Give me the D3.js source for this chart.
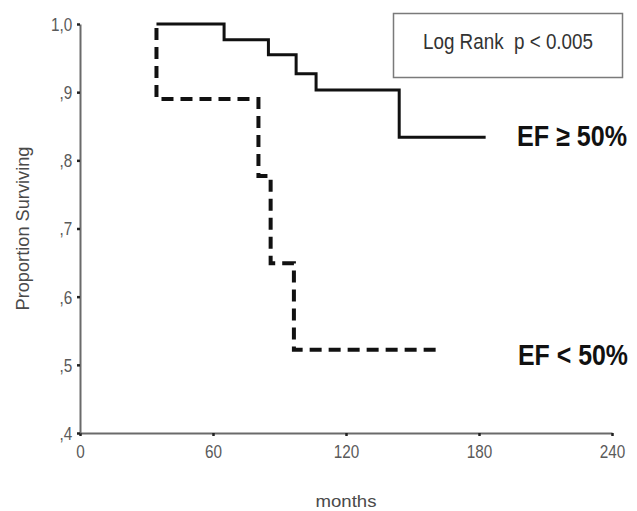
<!DOCTYPE html>
<html>
<head>
<meta charset="utf-8">
<script src="https://cdn.jsdelivr.net/npm/d3@7"></script>
<style>
  html, body { margin: 0; padding: 0; background: #fff; }
  svg { display: block; }
  text { font-family: "Liberation Sans", Arial, sans-serif; }
</style>
</head>
<body>
<div id="chart"></div>
<script>
// DATA (months, proportion surviving)
const efHighTimes = [34.5, 65, 85, 97.5, 106.5, 144, 183];
const efHighSurv  = [1.0, 0.977, 0.955, 0.927, 0.903, 0.834, 0.834];

const efLowTimes = [34.5, 34.5, 80.5, 86, 96.5, 162.5];
const efLowSurv  = [1.0, 0.89, 0.777, 0.649, 0.522, 0.522];

const xTicks = [0, 60, 120, 180, 240];
const yTicks = [0.4, 0.5, 0.6, 0.7, 0.8, 0.9, 1.0];
const yTickLabels = [',4', ',5', ',6', ',7', ',8', ',9', '1,0'];

const xLabel = 'months';
const yLabel = 'Proportion Surviving';
const testLabel = 'Log Rank  p < 0.005';
const seriesLabels = ['EF \u2265 50%', 'EF < 50%'];

// CANVAS
const width = 637, height = 511;
const margin = {top: 24, right: 25, bottom: 78, left: 80};
const innerW = width - margin.left - margin.right;
const innerH = height - margin.top - margin.bottom;

const svg = d3.select('#chart').append('svg')
  .attr('width', width)
  .attr('height', height);

const canvas = svg.append('g')
  .attr('transform', `translate(${margin.left},${margin.top})`);

// SCALES
const x = d3.scaleLinear().domain([0, 240]).range([0, innerW]);
const y = d3.scaleLinear().domain([0.4, 1.0]).range([innerH, 0]);

// X AXIS
const xAxis = d3.axisBottom(x)
  .tickValues(xTicks)
  .tickSize(3)
  .tickSizeOuter(0)
  .tickPadding(9);

const gx = canvas.append('g')
  .attr('class', 'x axis')
  .attr('transform', `translate(0,${innerH})`)
  .call(xAxis);

// Y AXIS
const yAxis = d3.axisLeft(y)
  .tickValues(yTicks)
  .tickFormat((d, i) => yTickLabels[i])
  .tickSize(3)
  .tickSizeOuter(0)
  .tickPadding(6);

const gy = canvas.append('g')
  .attr('class', 'y axis')
  .call(yAxis);

[gx, gy].forEach(g => {
  g.select('.domain').attr('stroke', '#6a6a6a').attr('stroke-width', 2);
  g.selectAll('.tick line').attr('stroke', '#222').attr('stroke-width', 2.5);
  g.selectAll('.tick text')
    .attr('fill', '#5a5a5a')
    .style('font-size', '18px');
});
gx.selectAll('.tick text').attr('transform', 'scale(0.85,1)');
gy.selectAll('.tick text').attr('transform', 'scale(0.85,1)').attr('dy', '0.36em');

// AXIS LABELS
svg.append('text')
  .attr('x', margin.left + innerW / 2)
  .attr('y', 507)
  .attr('text-anchor', 'middle')
  .attr('fill', '#4a4a4a')
  .attr('textLength', 61)
  .attr('lengthAdjust', 'spacingAndGlyphs')
  .style('font-size', '17px')
  .text(xLabel);

svg.append('text')
  .attr('transform', `translate(29,${margin.top + innerH / 2}) rotate(-90)`)
  .attr('text-anchor', 'middle')
  .attr('fill', '#4a4a4a')
  .attr('textLength', 164)
  .attr('lengthAdjust', 'spacingAndGlyphs')
  .style('font-size', '19px')
  .text(yLabel);

// SURVIVAL CURVES
const line = d3.line()
  .x(d => x(d[0]))
  .y(d => y(d[1]))
  .curve(d3.curveStepAfter);

const highPoints = efHighTimes.map((t, i) => [t, efHighSurv[i]]);
const lowPoints = efLowTimes.map((t, i) => [t, efLowSurv[i]]);

canvas.append('path')
  .datum(lowPoints)
  .attr('d', line)
  .attr('fill', 'none')
  .attr('stroke', '#111')
  .attr('stroke-width', 4)
  .attr('stroke-dasharray', '12,7')
  .attr('stroke-dashoffset', -4);

canvas.append('path')
  .datum(highPoints)
  .attr('d', line)
  .attr('fill', 'none')
  .attr('stroke', '#111')
  .attr('stroke-width', 3);

// LOG RANK BOX
svg.append('rect')
  .attr('x', 393.5)
  .attr('y', 13.5)
  .attr('width', 229)
  .attr('height', 64)
  .attr('fill', '#fff')
  .attr('stroke', '#7a7a7a')
  .attr('stroke-width', 1.5);

svg.append('text')
  .attr('transform', 'translate(423,49) scale(1,1.18)')
  .attr('fill', '#333')
  .attr('textLength', 170)
  .attr('lengthAdjust', 'spacingAndGlyphs')
  .style('font-size', '19px')
  .style('white-space', 'pre')
  .text(testLabel);

// SERIES LABELS
const labelPos = [[517, 146], [518, 365]];
seriesLabels.forEach((lbl, i) => {
  svg.append('text')
    .attr('transform', `translate(${labelPos[i][0]},${labelPos[i][1]}) scale(1,1.22)`)
    .attr('fill', '#111')
    .attr('font-weight', 'bold')
    .attr('textLength', 110)
    .attr('lengthAdjust', 'spacingAndGlyphs')
    .style('font-size', '24px')
    .text(lbl);
});
</script>
</body>
</html>
